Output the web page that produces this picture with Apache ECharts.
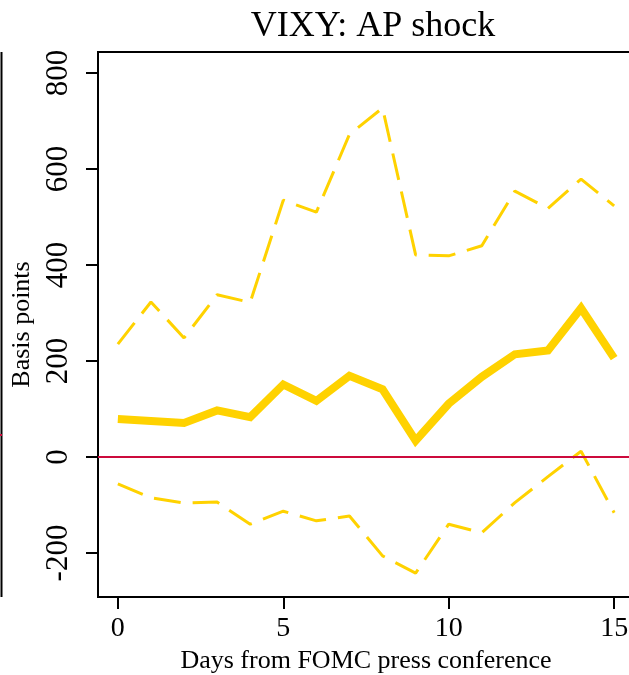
<!DOCTYPE html>
<html>
<head>
<meta charset="utf-8">
<script src="https://cdn.jsdelivr.net/npm/echarts@6/dist/echarts.min.js"></script>
<style>
html,body{margin:0;padding:0;background:#fff;}
#chart{width:629px;height:675px;}
</style>
</head>
<body>
<div id="chart"></div>
<script>
const days = [0,1,2,3,4,5,6,7,8,9,10,11,12,13,14,15];
const estimate = [79,75,71,97,83,151,117,169,141,34,111,167,214,222,310,206];
const upperBand = [235,323,248,338,322,535,510,672,727,421,419,440,554,518,579,523];
const lowerBand = [-56,-85,-96,-94,-140,-113,-133,-123,-206,-242,-140,-158,-95,-41,12,-116];
const yTicks = [-200,0,200,400,600,800];
const xTicks = [0,5,10,15];

const FONT = '"Liberation Serif", "DejaVu Serif", serif';
const GOLD = '#FFD200';
const RED = '#CC0A3C';

const chart = echarts.init(document.getElementById('chart'), null, {renderer:'canvas'});
const pair = (xs, ys) => xs.map((x,i)=>[x, ys[i]]);

chart.setOption({
  animation:false,
  backgroundColor:'#fff',
  title:{
    text:'VIXY: AP shock',
    left:368, top:4, textAlign:'center',
    textStyle:{fontFamily:FONT, fontSize:36, fontWeight:'normal', color:'#000'}
  },
  grid:{
    left:98, top:52, right:-5, bottom:78,
    outerBoundsMode:'none', containLabel:false,
    show:true, borderColor:'#000', borderWidth:2, backgroundColor:'transparent'
  },
  xAxis:{
    type:'value', min:-0.6, max:15.6,
    axisLine:{show:false, onZero:false},
    splitLine:{show:false},
    axisTick:{show:true, length:12, lineStyle:{color:'#000', width:2}, customValues:xTicks},
    axisLabel:{show:true, customValues:xTicks, margin:18, fontFamily:FONT, fontSize:28, color:'#000'},
    name:'Days from FOMC press conference',
    nameLocation:'middle', nameGap:46,
    nameTextStyle:{fontFamily:FONT, fontSize:26, color:'#000', verticalAlign:'top'}
  },
  yAxis:{
    type:'value', min:-291.7, max:843.75,
    axisLine:{show:false, onZero:false},
    splitLine:{show:false},
    axisTick:{show:true, length:12, lineStyle:{color:'#000', width:2}, customValues:yTicks},
    axisLabel:{show:true, customValues:yTicks, rotate:90, margin:24, align:'center', verticalAlign:'bottom',
               fontFamily:FONT, fontSize:31, color:'#000'},
    name:'Basis points',
    nameLocation:'middle', nameGap:54, nameRotate:90,
    nameTextStyle:{fontFamily:FONT, fontSize:26, color:'#000', verticalAlign:'bottom'}
  },
  graphic:[
    {type:'line', shape:{x1:1.5, y1:52, x2:1.5, y2:597}, style:{stroke:'#000', lineWidth:2}, silent:true},
    {type:'line', shape:{x1:0, y1:435, x2:2, y2:435}, style:{stroke:RED, lineWidth:2}, silent:true}
  ],
  series:[
    {
      type:'line', data:pair(days, upperBand), symbol:'none',
      lineStyle:{color:GOLD, width:3, type:[27,12]}, z:2
    },
    {
      type:'line', data:pair(days, lowerBand), symbol:'none',
      lineStyle:{color:GOLD, width:3, type:[27,12]}, z:2
    },
    {
      type:'line', data:pair(days, estimate), symbol:'none',
      lineStyle:{color:GOLD, width:8, join:'miter', cap:'butt'}, z:3,
      markLine:{
        silent:true, symbol:'none', label:{show:false},
        lineStyle:{color:RED, width:2, type:'solid'},
        data:[{yAxis:0}], z:4
      }
    }
  ]
});
</script>
</body>
</html>
